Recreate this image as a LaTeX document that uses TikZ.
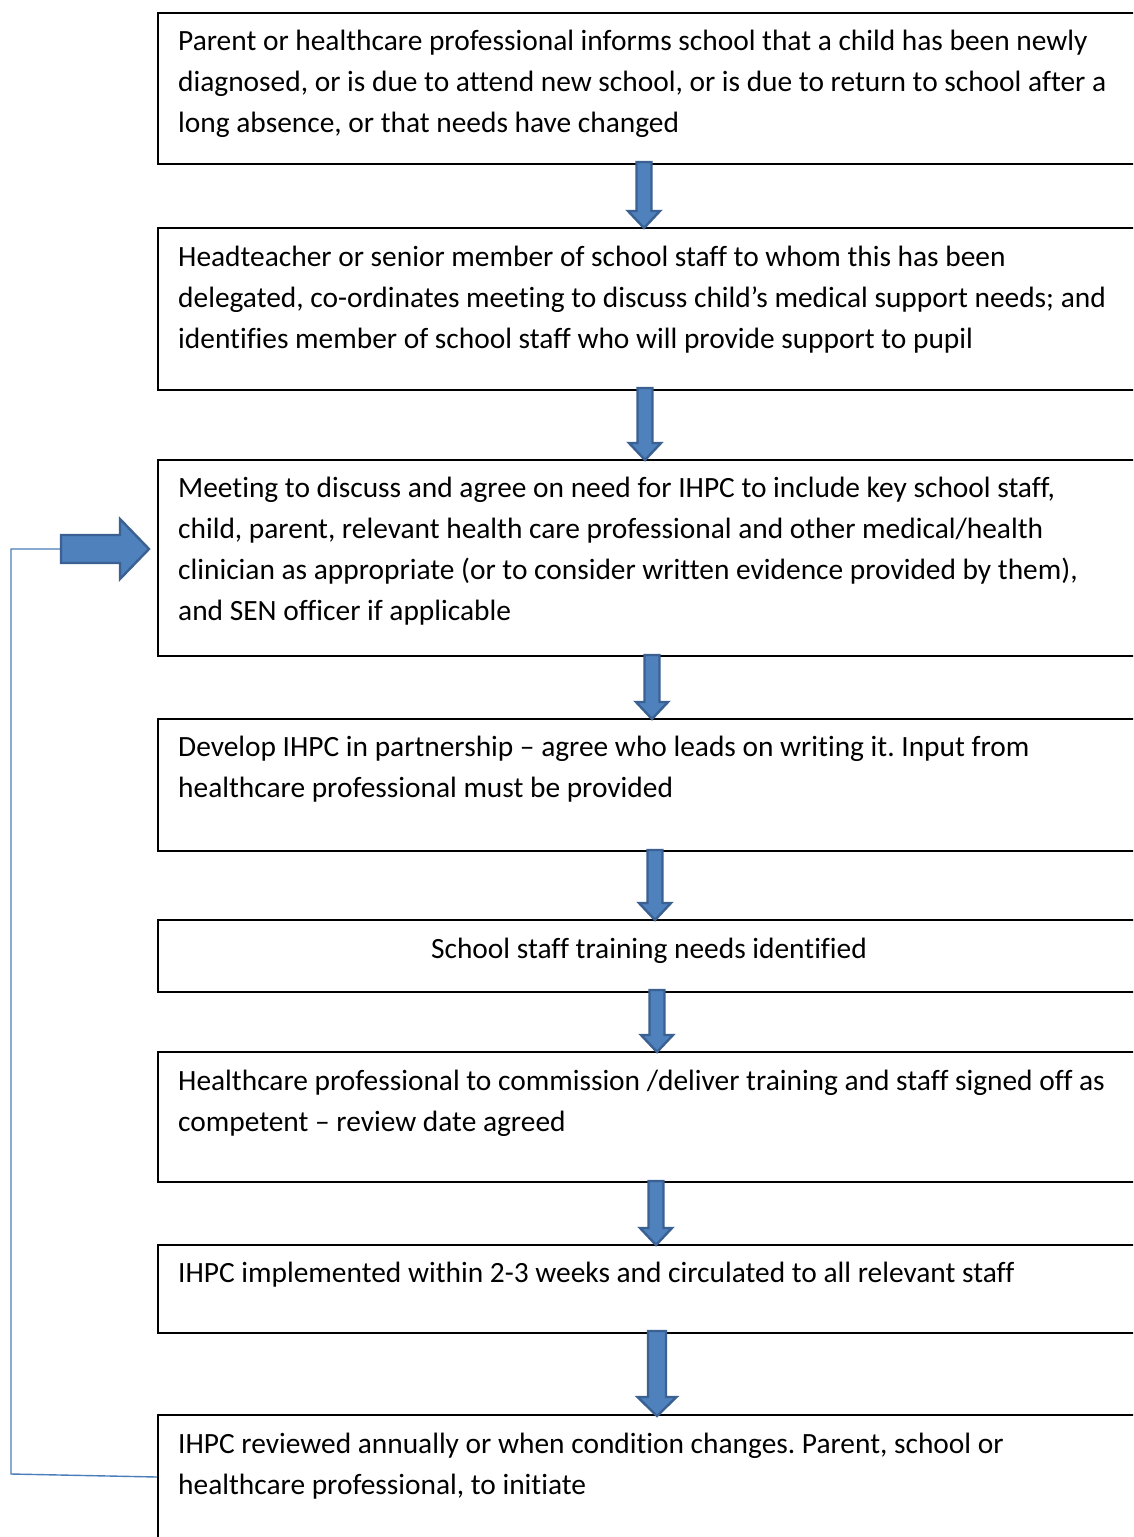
\documentclass[tikz,border=0pt]{standalone}
\usepackage{fontspec}
\setmainfont{Carlito}[Ligatures=NoCommon]
\frenchspacing
\definecolor{arrfill}{HTML}{4F81BD}
\definecolor{arredge}{HTML}{3A6192}
\definecolor{connblue}{HTML}{4A7EBB}
\newcommand{\myvarrow}[6]{%
  \draw[blockarr] (#1-#4,#2) -- (#1+#4,#2) -- (#1+#4,#3-#6) -- (#1+#5,#3-#6) -- (#1,#3) -- (#1-#5,#3-#6) -- (#1-#4,#3-#6) -- cycle;}
\begin{document}
\frenchspacing
\begin{tikzpicture}[x=1pt,y=-1pt,
  box/.style={draw=black, line width=1.6pt, inner sep=0pt, minimum width=990pt, anchor=north west},
  txt/.style={font=\fontsize{29.4}{41}\selectfont, align=left, inner sep=0pt, anchor=north west},
  blockarr/.style={fill=arrfill, draw=arredge, line width=2.4pt, line join=miter},
  conn/.style={draw=connblue, line width=1.4pt}]
\clip (0,0) rectangle (1133,1537);
\fill[white] (0,0) rectangle (1133,1537);

% boxes
\node[box, minimum height=151pt] (b1) at (157,12) {};
\node[box, minimum height=162pt] (b2) at (157,227) {};
\node[box, minimum height=196pt] (b3) at (157,459) {};
\node[box, minimum height=132pt] (b4) at (157,718) {};
\node[box, minimum height=72pt] (b5) at (157,919) {};
\node[box, minimum height=130pt] (b6) at (157,1051) {};
\node[box, minimum height=88pt] (b7) at (157,1244) {};
\node[box, minimum height=160pt] (b8) at (157,1414) {};

% texts
\node[txt] (t1) at (178,21.8) {\strut Parent or healthcare professional informs school that a child has been newly\\
diagnosed, or is due to attend new school, or is due to return to school after a\\
long absence, or that needs have changed};
\node[txt] (t2) at (178,237.8) {\strut Headteacher or senior member of school staff to whom this has been\\
delegated, co-ordinates meeting to discuss child’s medical support needs; and\\
identifies member of school staff who will provide support to pupil};
\node[txt] (t3) at (178,468.8) {\strut Meeting to discuss and agree on need for IHPC to include key school staff,\\
child, parent, relevant health care professional and other medical/health\\
clinician as appropriate (or to consider written evidence provided by them),\\
and SEN officer if applicable};
\node[txt] (t4) at (178,727.8) {\strut Develop IHPC in partnership -- agree who leads on writing it. Input from\\
healthcare professional must be provided};
\node[font=\fontsize{29.4}{41}\selectfont, inner sep=0pt, anchor=base] (t5) at (649,958.5) {School staff training needs identified};
\node[txt] (t6) at (178,1061.8) {\strut Healthcare professional to commission /deliver training and staff signed off as\\
competent -- review date agreed};
\node[txt] (t7) at (178,1253.8) {\strut IHPC implemented within 2-3 weeks and circulated to all relevant staff};
\node[txt] (t8) at (178,1424.8) {\strut IHPC reviewed annually or when condition changes. Parent, school or\\
healthcare professional, to initiate};

% block arrows between boxes
\myvarrow{644}{162}{228}{7.5}{16}{17}
\myvarrow{645}{388}{460}{7.5}{16}{17}
\myvarrow{652}{655}{719}{7.5}{16}{17}
\myvarrow{655}{850}{920}{7.5}{16}{17}
\myvarrow{657}{990}{1052}{7.5}{16}{17}
\myvarrow{656}{1181}{1245}{7.5}{16}{17}
\myvarrow{657}{1331}{1416}{9}{19.5}{19}

% feedback connector
\coordinate (c1) at (11,1474);
\coordinate (c2) at (11,549);
\coordinate (c3) at (62,549);
\draw[conn] (b8.west |- 0,1477) -- (c1) -- (c2) -- (c3);
\draw[blockarr] (61,535) -- (120,535) -- (120,519) -- (149,549) -- (120,579) -- (120,563) -- (61,563) -- cycle;
\end{tikzpicture}
\end{document}
